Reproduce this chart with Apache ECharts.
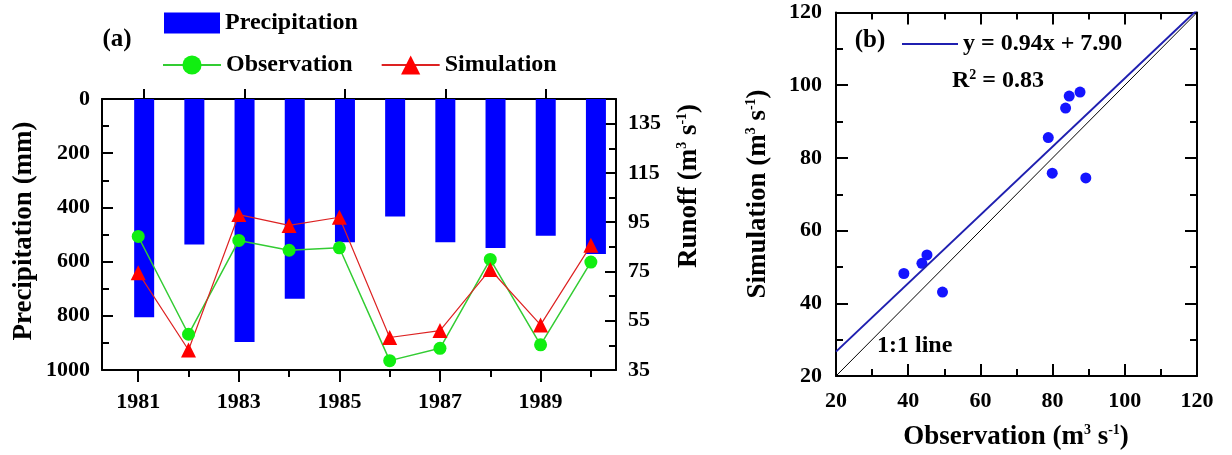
<!DOCTYPE html>
<html><head><meta charset="utf-8">
<script src="https://cdn.jsdelivr.net/npm/echarts@6/dist/echarts.min.js"></script>
<style>html,body{margin:0;padding:0;background:#fff}#c{width:1232px;height:455px}</style>
</head><body><div id="c"></div>
<script>
// ---- data ----
const years = [1981, 1982, 1983, 1984, 1985, 1986, 1987, 1988, 1989, 1990];
const precipitation = [805, 537, 897, 737, 529, 434, 529, 550, 505, 572];
const observation = [89.2, 49.5, 87.6, 83.6, 84.6, 38.8, 43.8, 79.9, 45.2, 78.8];
const simulation = [74.5, 43.1, 98.1, 93.7, 97.0, 48.2, 51.0, 75.8, 53.3, 85.6];
const yearLabels = [1981, 1983, 1985, 1987, 1989];
const yearMinorTicks = [1982, 1984, 1986, 1988, 1990];
const runoffTicks = [35, 55, 75, 95, 115, 135];
const runoffMinorTicks = [45, 65, 85, 105, 125];
const fitLine = [[20, 26.7], [120, 120.7]];
const oneToOne = [[20, 20], [120, 120]];

const F = '"Liberation Serif", "Times New Roman", serif';
const black = '#000';
const lineW = 2;
const plain = v => String(v);
const lab = {fontFamily: F, fontWeight: 'bold', fontSize: 22, color: black, formatter: plain};
const supRich = {
  s: {fontFamily: F, fontWeight: 'bold', fontSize: 14, verticalAlign: 'top', lineHeight: 14, color: black}
};
function axLine(show) { return {show: show, onZero: false, lineStyle: {color: black, width: lineW}}; }

const chart = echarts.init(document.getElementById('c'), null, {renderer: 'canvas'});
const option = {
  animation: false,
  backgroundColor: '#fff',
  grid: [
    {left: 102, top: 99, width: 514, height: 271},
    {left: 836, top: 12.5, width: 361, height: 363.5}
  ],
  xAxis: [
    { // 0: bottom, years (lines)
      gridIndex: 0, type: 'value', position: 'bottom', min: 1980.28, max: 1990.5,
      axisLine: axLine(true), splitLine: {show: false},
      axisTick: {show: true, inside: false, length: 12, customValues: yearLabels, lineStyle: {color: black, width: lineW}},
      axisLabel: Object.assign({margin: 21, customValues: yearLabels}, lab)
    },
    { // 1: bottom minor ticks
      gridIndex: 0, type: 'value', position: 'bottom', min: 1980.28, max: 1990.5,
      axisLine: axLine(false), splitLine: {show: false},
      axisTick: {show: true, inside: false, length: 7, customValues: yearMinorTicks, lineStyle: {color: black, width: lineW}},
      axisLabel: {show: false}
    },
    { // 2: top, bars
      gridIndex: 0, type: 'value', position: 'top', min: 1980.16, max: 1990.4,
      axisLine: axLine(true), splitLine: {show: false},
      axisTick: {show: true, inside: false, length: 10, customValues: yearLabels, lineStyle: {color: black, width: lineW}},
      axisLabel: {show: false}
    },
    { // 3: right chart bottom
      gridIndex: 1, type: 'value', position: 'bottom', min: 20, max: 120, interval: 20,
      axisLine: axLine(true), splitLine: {show: false},
      axisTick: {show: true, inside: true, length: 12, lineStyle: {color: black, width: lineW}},
      minorTick: {show: true, splitNumber: 2, length: 7, lineStyle: {color: black, width: lineW}},
      axisLabel: Object.assign({margin: 14}, lab)
    },
    { // 4: right chart top
      gridIndex: 1, type: 'value', position: 'top', min: 20, max: 120, interval: 20,
      axisLine: axLine(true), splitLine: {show: false},
      axisTick: {show: true, inside: true, length: 12, lineStyle: {color: black, width: lineW}},
      minorTick: {show: true, splitNumber: 2, length: 7, lineStyle: {color: black, width: lineW}},
      axisLabel: {show: false}
    }
  ],
  yAxis: [
    { // 0: precipitation
      gridIndex: 0, type: 'value', position: 'left', inverse: true, min: 0, max: 1000, interval: 200,
      axisLine: axLine(true), splitLine: {show: false},
      axisTick: {show: true, inside: true, length: 11, lineStyle: {color: black, width: lineW}},
      minorTick: {show: true, splitNumber: 2, length: 7, lineStyle: {color: black, width: lineW}},
      axisLabel: Object.assign({margin: 12}, lab)
    },
    { // 1: runoff
      gridIndex: 0, type: 'value', position: 'right', min: 35, max: 145,
      axisLine: axLine(true), splitLine: {show: false},
      axisTick: {show: true, inside: true, length: 11, customValues: runoffTicks, lineStyle: {color: black, width: lineW}},
      axisLabel: Object.assign({margin: 12, customValues: runoffTicks}, lab)
    },
    { // 2: runoff minor
      gridIndex: 0, type: 'value', position: 'right', min: 35, max: 145,
      axisLine: axLine(false), splitLine: {show: false},
      axisTick: {show: true, inside: true, length: 7, customValues: runoffMinorTicks, lineStyle: {color: black, width: lineW}},
      axisLabel: {show: false}
    },
    { // 3: right chart left
      gridIndex: 1, type: 'value', position: 'left', min: 20, max: 120, interval: 20,
      axisLine: axLine(true), splitLine: {show: false},
      axisTick: {show: true, inside: true, length: 12, lineStyle: {color: black, width: lineW}},
      minorTick: {show: true, splitNumber: 2, length: 7, lineStyle: {color: black, width: lineW}},
      axisLabel: Object.assign({margin: 14}, lab)
    },
    { // 4: right chart right
      gridIndex: 1, type: 'value', position: 'right', min: 20, max: 120, interval: 20,
      axisLine: axLine(true), splitLine: {show: false},
      axisTick: {show: true, inside: true, length: 12, lineStyle: {color: black, width: lineW}},
      minorTick: {show: true, splitNumber: 2, length: 7, lineStyle: {color: black, width: lineW}},
      axisLabel: {show: false}
    }
  ],
  legend: [
    {
      data: ['Precipitation'], left: 164, top: 11, padding: 0, icon: 'rect', itemWidth: 56, itemHeight: 21,
      selectedMode: false, textStyle: {fontFamily: F, fontWeight: 'bold', fontSize: 24, color: black}
    },
    {
      data: ['Observation', 'Simulation'], left: 162, top: 53, padding: 0, itemWidth: 58, itemHeight: 24, itemGap: 28,
      selectedMode: false, textStyle: {fontFamily: F, fontWeight: 'bold', fontSize: 24, color: black}
    },
    {
      data: ['y = 0.94x + 7.90'], left: 902, top: 32, padding: 0, icon: 'rect', itemWidth: 56, itemHeight: 2,
      selectedMode: false, textStyle: {fontFamily: F, fontWeight: 'bold', fontSize: 24, color: black}
    }
  ],
  series: [
    {
      name: 'Precipitation', type: 'bar', xAxisIndex: 2, yAxisIndex: 0, barWidth: 20,
      itemStyle: {color: '#0000ff'},
      data: years.map((y, i) => [y, precipitation[i]])
    },
    {
      name: 'Observation', type: 'line', xAxisIndex: 0, yAxisIndex: 1,
      symbol: 'circle', symbolSize: 13,
      itemStyle: {color: '#11ee11'}, lineStyle: {color: '#33cc33', width: 1.5},
      data: years.map((y, i) => [y, observation[i]])
    },
    {
      name: 'Simulation', type: 'line', xAxisIndex: 0, yAxisIndex: 1,
      symbol: 'triangle', symbolSize: 15,
      itemStyle: {color: '#ff0000'}, lineStyle: {color: '#dd2222', width: 1.2},
      data: years.map((y, i) => [y, simulation[i]])
    },
    {
      name: '1:1', type: 'line', xAxisIndex: 3, yAxisIndex: 3, symbol: 'none',
      lineStyle: {color: '#000', width: 1}, data: oneToOne
    },
    {
      name: 'y = 0.94x + 7.90', type: 'line', xAxisIndex: 3, yAxisIndex: 3, symbol: 'none',
      itemStyle: {color: '#1f1fb0'}, lineStyle: {color: '#1f1fb0', width: 2}, data: fitLine
    },
    {
      name: 'Points', type: 'scatter', xAxisIndex: 3, yAxisIndex: 3, symbolSize: 11,
      itemStyle: {color: '#1414ff', opacity: 1},
      data: observation.map((o, i) => [o, simulation[i]])
    }
  ],
  graphic: [
    {type: 'text', x: 117, y: 40, style: {text: '(a)', font: 'bold 25px "Liberation Serif"', fill: black, align: 'center', verticalAlign: 'middle'}},
    {type: 'text', x: 870, y: 41, style: {text: '(b)', font: 'bold 25px "Liberation Serif"', fill: black, align: 'center', verticalAlign: 'middle'}},
    {type: 'text', x: 952, y: 81, style: {text: 'R{s|2} = 0.83', font: 'bold 24px "Liberation Serif"', fill: black, align: 'left', verticalAlign: 'middle', lineHeight: 26, rich: supRich}},
    {type: 'text', x: 877, y: 346, style: {text: '1:1 line', font: 'bold 24px "Liberation Serif"', fill: black, align: 'left', verticalAlign: 'middle'}},
    {type: 'text', x: 24, y: 231, rotation: Math.PI / 2, style: {text: 'Precipitation (mm)', font: 'bold 27px "Liberation Serif"', fill: black, align: 'center', verticalAlign: 'middle'}},
    {type: 'text', x: 689, y: 186, rotation: Math.PI / 2, style: {text: 'Runoff (m{s|3} s{s|-1})', font: 'bold 27px "Liberation Serif"', fill: black, align: 'center', verticalAlign: 'middle', lineHeight: 28, rich: supRich}},
    {type: 'text', x: 758, y: 194, rotation: Math.PI / 2, style: {text: 'Simulation (m{s|3} s{s|-1})', font: 'bold 27px "Liberation Serif"', fill: black, align: 'center', verticalAlign: 'middle', lineHeight: 28, rich: supRich}},
    {type: 'text', x: 1016, y: 437, style: {text: 'Observation (m{s|3} s{s|-1})', font: 'bold 27px "Liberation Serif"', fill: black, align: 'center', verticalAlign: 'middle', lineHeight: 28, rich: supRich}}
  ]
};
chart.setOption(option);
</script>
</body></html>
